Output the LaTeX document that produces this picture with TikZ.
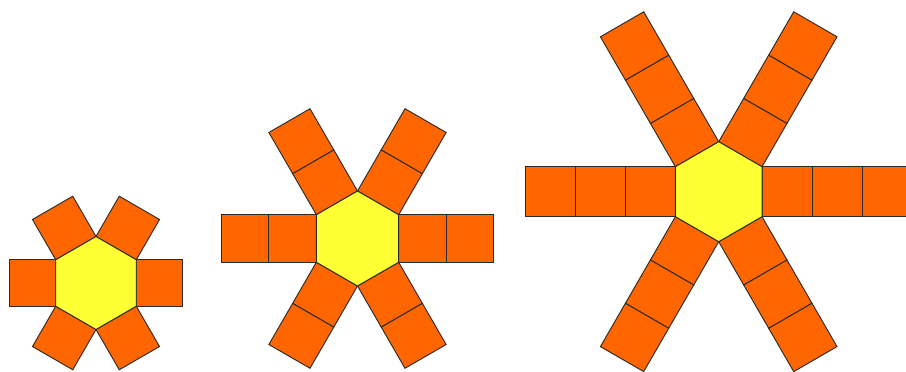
\documentclass[tikz,border=0pt]{standalone}
\usepackage{tikz}
\definecolor{PetalOrange}{HTML}{FF6600}
\definecolor{CoreYellow}{HTML}{FFFF33}
\definecolor{EdgeGray}{HTML}{2A2A2A}

\begin{document}
\begin{tikzpicture}[x=0.03cm,y=0.03cm,
  petal/.style={fill=PetalOrange,draw=EdgeGray,line width=0.8pt},
  core/.style={fill=CoreYellow,draw=EdgeGray,line width=0.8pt}
]
\useasboundingbox (0,0) rectangle (906,372);

%% three hexagons, arms of 1, 2 and 3 squares
\foreach \cx/\cy/\s/\n in {96/89/46.5/1, 357.5/133.5/47.5/2, 718.7/180.3/50/3}{
  \begin{scope}[shift={(\cx,\cy)}]
    % arms
    \foreach \k in {0,...,5}
      \foreach \j in {1,...,\n}
        \draw[petal,rotate=60*\k] ({0.866*\s+(\j-1)*\s},{-\s/2}) rectangle ++(\s,\s);
    % hexagon
    \draw[core] (30:\s) -- (90:\s) -- (150:\s) -- (210:\s) -- (270:\s) -- (330:\s) -- cycle;
  \end{scope}
}

\end{tikzpicture}
\end{document}
